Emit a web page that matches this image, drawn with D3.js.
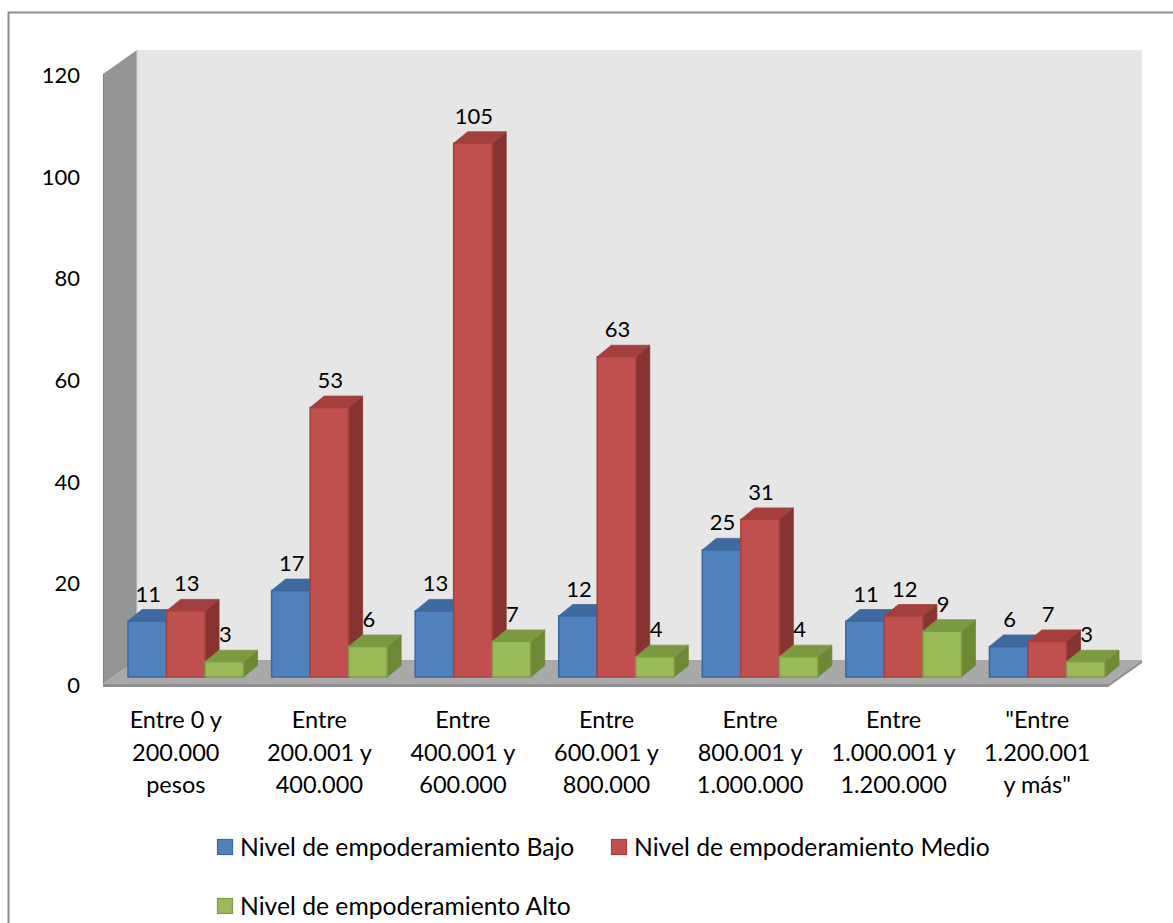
<!DOCTYPE html>
<html>
<head>
<meta charset="utf-8">
<script src="https://cdn.jsdelivr.net/npm/d3@7"></script>
<style>
  html, body { margin: 0; padding: 0; background: #ffffff; }
  svg { display: block; }
  text { font-family: Lato, "Open Sans", sans-serif; fill: #000; }
</style>
</head>
<body>
<svg id="chart" width="1173" height="923"></svg>
<script>
// Income brackets (line breaks mark where the axis label wraps)
const categories = [
  "Entre 0 y\n200.000\npesos",
  "Entre\n200.001 y\n400.000",
  "Entre\n400.001 y\n600.000",
  "Entre\n600.001 y\n800.000",
  "Entre\n800.001 y\n1.000.000",
  "Entre\n1.000.001 y\n1.200.000",
  "\"Entre\n1.200.001\ny más\""
];
const seriesNames = [
  "Nivel de empoderamiento Bajo",
  "Nivel de empoderamiento Medio",
  "Nivel de empoderamiento Alto"
];
const bajo  = [11, 17, 13, 12, 25, 11, 6];
const medio = [13, 53, 105, 63, 31, 12, 7];
const alto  = [3, 6, 7, 4, 4, 9, 3];
const yTicks = [0, 20, 40, 60, 80, 100, 120];

const seriesValues = [bajo, medio, alto];
const palette = [
  { front: "#4f81bd", top: "#3f6a9f", side: "#375c8a", stroke: "#3b679e" },
  { front: "#c0504d", top: "#a3403d", side: "#863431", stroke: "#a6403d" },
  { front: "#9bbb59", top: "#7b9a3f", side: "#6c8a35", stroke: "#7e9c44" }
];

const svg = d3.select("#chart");

// outer chart frame
svg.append("rect")
  .attr("x", 8.5).attr("y", 12.5)
  .attr("width", 1200).attr("height", 1000)
  .attr("fill", "#fff").attr("stroke", "#8c8c8c").attr("stroke-width", 2);

// front-plane geometry
const x0 = 103, x1 = 1108;
const y = d3.scaleLinear().domain([0, 120]).range([684, 74]);
const wall = { dx: 34, dy: -24 };        // depth of the walls/floor
const barOff = { dx: 11, dy: -7 };       // bars stand a little behind the front edge
const barDepth = { dx: 14, dy: -11.5 };  // thickness of each column

const xCat = d3.scaleBand().domain(d3.range(categories.length))
  .range([x0, x1]).paddingInner(0.195).paddingOuter(0.0975);
const xSer = d3.scaleBand().domain(d3.range(seriesNames.length))
  .range([0, xCat.bandwidth()]);

const pts = a => a.map(p => p.join(",")).join(" ");
const g = svg.append("g");

// back wall
g.append("polygon")
  .attr("points", pts([[x0 + wall.dx, y(120) + wall.dy], [x1 + wall.dx, y(120) + wall.dy],
                       [x1 + wall.dx, y(0) + wall.dy], [x0 + wall.dx, y(0) + wall.dy]]))
  .attr("fill", "#e6e6e6");
// side wall
g.append("polygon")
  .attr("points", pts([[x0, y(120)], [x0 + wall.dx, y(120) + wall.dy],
                       [x0 + wall.dx, y(0) + wall.dy], [x0, y(0)]]))
  .attr("fill", "#959595");
g.append("line")
  .attr("x1", x0 + wall.dx).attr("x2", x0 + wall.dx)
  .attr("y1", y(120) + wall.dy).attr("y2", y(0) + wall.dy)
  .attr("stroke", "#d0d0d0").attr("stroke-width", 1);
g.append("line")
  .attr("x1", x0 + 0.5).attr("x2", x0 + 0.5)
  .attr("y1", y(120)).attr("y2", y(0))
  .attr("stroke", "#7e7e7e").attr("stroke-width", 1);
// floor
g.append("polygon")
  .attr("points", pts([[x0, y(0)], [x0 + wall.dx, y(0) + wall.dy],
                       [x1 + wall.dx, y(0) + wall.dy], [x1, y(0)]]))
  .attr("fill", "#a9a9a9");
g.append("polygon")
  .attr("points", pts([[x0, y(0)], [x1, y(0)], [x1 + wall.dx, y(0) + wall.dy],
                       [x1 + wall.dx, y(0) + wall.dy + 3], [x1, y(0) + 3], [x0, y(0) + 3]]))
  .attr("fill", "#8f8f8f");

// columns
const base = y(0) + barOff.dy;
categories.forEach((c, i) => {
  seriesValues.forEach((vals, s) => {
    const v = vals[i];
    const bx0 = xCat(i) + xSer(s) + barOff.dx;
    const bx1 = bx0 + xSer.bandwidth();
    const top = y(v) + barOff.dy;
    const col = palette[s];
    const bar = g.append("g");
    bar.append("polygon")
      .attr("points", pts([[bx1, top], [bx1 + barDepth.dx, top + barDepth.dy],
                           [bx1 + barDepth.dx, base + barDepth.dy], [bx1, base]]))
      .attr("fill", col.side).attr("stroke", col.side).attr("stroke-width", 0.8);
    bar.append("polygon")
      .attr("points", pts([[bx0, top], [bx1, top], [bx1 + barDepth.dx, top + barDepth.dy],
                           [bx0 + barDepth.dx, top + barDepth.dy]]))
      .attr("fill", col.top).attr("stroke", col.top).attr("stroke-width", 0.8);
    bar.append("rect")
      .attr("x", bx0).attr("y", top)
      .attr("width", bx1 - bx0).attr("height", base - top)
      .attr("fill", col.front).attr("stroke", col.stroke).attr("stroke-width", 1.5);
  });
});

// value labels
categories.forEach((c, i) => {
  seriesValues.forEach((vals, s) => {
    const v = vals[i];
    const cx = xCat(i) + xSer(s) + barOff.dx + xSer.bandwidth() / 2 + 1;
    g.append("text")
      .attr("x", cx).attr("y", y(v) + barOff.dy + barDepth.dy - 8)
      .attr("text-anchor", "middle")
      .style("font-size", "22px")
      .text(v);
  });
});

// value axis labels
g.selectAll(".ytick").data(yTicks).enter().append("text")
  .attr("class", "ytick")
  .attr("x", 80).attr("y", d => y(d) + 9)
  .attr("text-anchor", "end")
  .style("font-size", "22px")
  .text(d => d);

// category labels
categories.forEach((c, i) => {
  const t = g.append("text")
    .attr("text-anchor", "middle")
    .style("font-size", "23.5px");
  c.split("\n").forEach((line, k) => {
    t.append("tspan")
      .attr("x", xCat(i) - xCat.step() * 0.0975 + xCat.step() / 2 + 1)
      .attr("y", 728 + k * 32.5)
      .text(line);
  });
});

// legend
const legendPos = [[217, 847], [611, 847], [217, 906]];
seriesNames.forEach((name, s) => {
  const [lx, ly] = legendPos[s];
  g.append("rect")
    .attr("x", lx + 0.5).attr("y", ly - 7.5)
    .attr("width", 15).attr("height", 15)
    .attr("fill", palette[s].front).attr("stroke", palette[s].stroke).attr("stroke-width", 1.2);
  g.append("text")
    .attr("x", lx + 23).attr("y", ly + 8.5)
    .style("font-size", "24.7px")
    .text(name);
});
</script>
</body>
</html>
